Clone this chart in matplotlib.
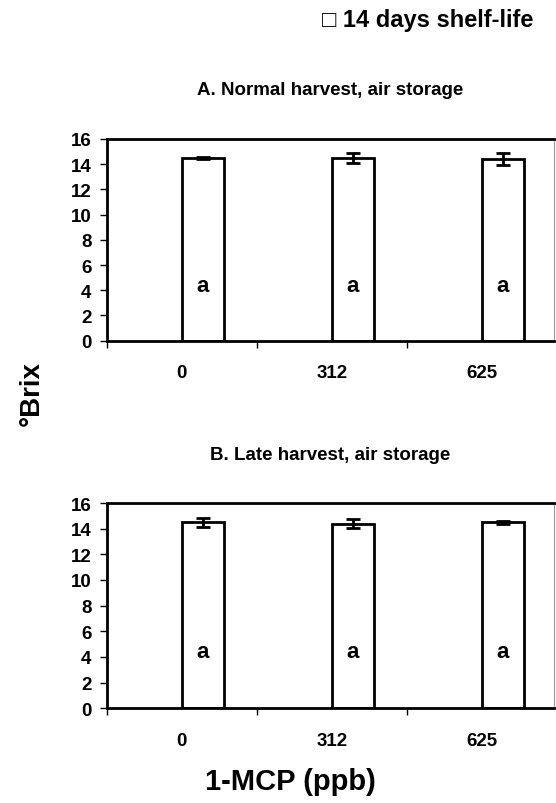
import numpy as np
import matplotlib
matplotlib.use("Agg")
import matplotlib.pyplot as plt
from matplotlib.ticker import FixedLocator, NullFormatter

plt.rcParams["font.family"] = ["Liberation Sans", "DejaVu Sans"]
plt.rcParams["font.weight"] = "bold"

doses = ["0", "312", "625"]
letters = ["a", "a", "a"]

normal_brix = [14.5, 14.5, 14.4]
normal_se = [0.1, 0.4, 0.45]
late_brix = [14.5, 14.4, 14.5]
late_se = [0.35, 0.35, 0.1]

panels = [
    ("A. Normal harvest, air storage", normal_brix, normal_se),
    ("B. Late harvest, air storage", late_brix, late_se),
]

fig = plt.figure(figsize=(5.56, 8.04), dpi=100)
boxes = [[0.192, 0.575, 0.804, 0.251], [0.192, 0.118, 0.804, 0.255]]
title_y = [0.888, 0.434]

x = np.arange(len(doses))
bar_w = 0.28

for (title, vals, errs), box, ty in zip(panels, boxes, title_y):
    ax = fig.add_axes(box)
    ax.bar(x + bar_w / 2, vals, width=bar_w, color="white",
           edgecolor="black", linewidth=2, zorder=2)
    ax.errorbar(x + bar_w / 2, vals, yerr=errs, fmt="none", ecolor="black",
                elinewidth=2, capsize=5, capthick=2, zorder=3)
    for xi, lab in zip(x, letters):
        ax.text(xi + bar_w / 2, 4.4, lab, ha="center", va="center",
                fontsize=16, fontweight="bold")

    ax.set_ylim(0, 16)
    ax.set_yticks(range(0, 17, 2))
    ax.set_xlim(-0.5, 2.48)
    # boundary ticks between categories, labels at category centres
    ax.xaxis.set_major_locator(FixedLocator([-0.5, 0.5, 1.5]))
    ax.xaxis.set_major_formatter(NullFormatter())
    ax.xaxis.set_minor_locator(FixedLocator(x))
    ax.set_xticklabels(doses, minor=True)
    ax.tick_params(axis="x", which="major", direction="out", length=5, width=1)
    ax.tick_params(axis="x", which="minor", length=0, pad=17, labelsize=13.5)
    ax.tick_params(axis="y", direction="out", length=5, width=1, labelsize=13.5, pad=6)

    for side in ["left", "bottom", "top"]:
        ax.spines[side].set_linewidth(2)
        ax.spines[side].set_color("black")
    ax.spines["right"].set_linewidth(0.8)
    ax.spines["right"].set_color("#999999")

    fig.text(box[0] + box[2] / 2, ty, title,
             ha="center", va="center", fontsize=13.5, fontweight="bold")

fig.text(0.959, 0.974, "\u25a1 14 days shelf-life", ha="right", va="center",
         fontsize=17, fontweight="bold")
fig.text(0.522, 0.027, "1-MCP (ppb)", ha="center", va="center",
         fontsize=21, fontweight="bold")
fig.text(0.058, 0.511, "\u00b0Brix", ha="center", va="center", rotation=90,
         fontsize=20, fontweight="bold")

fig.savefig("out.png", dpi=100)
